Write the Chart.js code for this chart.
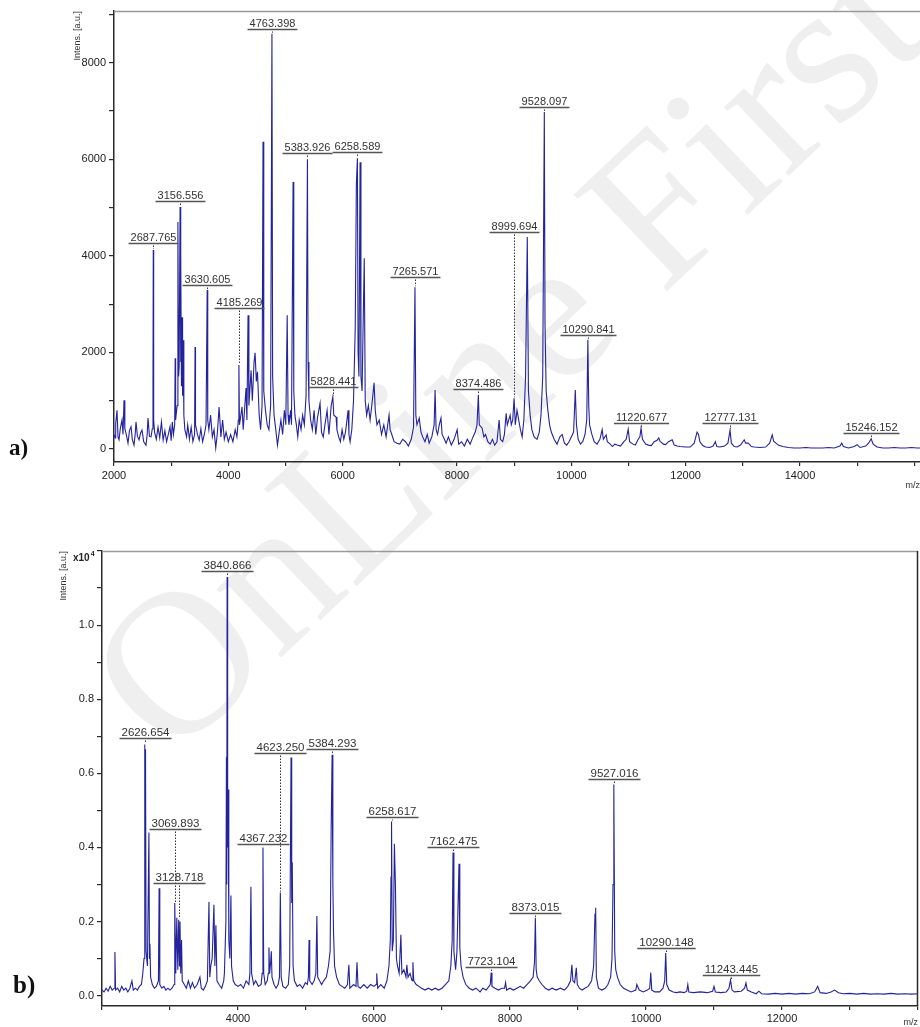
<!DOCTYPE html>
<html>
<head>
<meta charset="utf-8">
<script src="https://cdn.jsdelivr.net/npm/chart.js@4.4.0/dist/chart.umd.min.js"></script>
<style>
  html, body { margin: 0; padding: 0; background: #fff; width: 920px; height: 1027px; overflow: hidden; }
  .panel { position: absolute; left: 0; z-index: 1; }
  #wrapA { top: 0; }
  #wrapB { top: 530px; }
  .tag { position: absolute; z-index: 2; font-family: "Liberation Serif", "DejaVu Serif", serif; font-weight: bold; color: #111; line-height: 1; }
  #watermark {
    position: absolute; left: 505px; top: 350px; z-index: 0;
    transform: translate(-50%, -50%) rotate(-43.5deg);
    font-family: "Liberation Serif", serif; font-size: 205px; color: #efefef; white-space: nowrap;
  }
</style>
</head>
<body>
<div id="watermark">OnLine First</div>
<div class="panel" id="wrapA"><canvas id="chartA" width="920" height="500"></canvas></div>
<div class="panel" id="wrapB"><canvas id="chartB" width="920" height="497"></canvas></div>
<div class="tag" style="left:9px; top:436px; font-size:23px;">a)</div>
<div class="tag" style="left:13px; top:972px; font-size:25px;">b)</div>
<script>
// spectrum a) : [m/z, intensity a.u.]
const spectrumA = [
  [2000,300],[2018,230],[2030,520],[2053,800],[2070,250],[2088,190],[2110,420],[2140,600],[2158,300],[2175,1010],
  [2190,420],[2210,330],[2245,120],[2270,380],[2298,460],[2320,200],[2350,80],[2370,300],[2385,560],[2410,260],
  [2438,190],[2465,330],[2490,390],[2520,150],[2560,80],[2580,300],[2595,640],[2620,260],[2648,250],[2670,420],
  [2682,1300],[2687,4120],[2694,600],[2710,350],[2740,200],[2770,450],[2800,230],[2830,560],[2860,180],[2890,380],
  [2920,150],[2950,300],[2980,460],[3000,170],[3020,560],[3040,300],[3062,500],[3070,1880],[3078,600],[3105,900],
  [3118,4700],[3130,1500],[3140,1700],[3156,5010],[3163,1800],[3172,4010],[3180,1300],[3190,2730],[3200,1100],[3210,2250],
  [3222,700],[3240,400],[3270,250],[3290,500],[3320,200],[3350,450],[3380,150],[3410,300],[3418,2110],[3426,500],
  [3460,300],[3490,180],[3520,420],[3550,150],[3580,300],[3610,500],[3630,3290],[3640,600],[3660,400],[3690,700],
  [3720,250],[3750,400],[3780,20],[3810,350],[3838,870],[3870,250],[3900,600],[3930,200],[3960,350],[4000,150],
  [4040,300],[4080,150],[4120,400],[4150,250],[4175,600],[4185,1740],[4195,500],[4240,870],[4260,400],[4310,1260],
  [4325,600],[4345,2770],[4360,900],[4398,1630],[4420,1000],[4450,1800],[4468,1990],[4490,1400],[4510,1600],[4540,700],
  [4565,400],[4590,900],[4607,6360],[4620,1200],[4650,800],[4680,500],[4710,400],[4740,900],[4763,8600],[4775,1500],
  [4800,700],[4830,400],[4860,80],[4890,350],[4920,600],[4950,300],[4980,800],[5005,500],[5030,2770],[5045,700],
  [5060,500],[5090,800],[5105,500],[5133,5530],[5145,1200],[5165,700],[5190,500],[5215,250],[5240,600],[5272,400],
  [5300,700],[5330,500],[5360,1100],[5384,6000],[5395,1800],[5410,1000],[5440,600],[5470,400],[5500,800],[5530,300],
  [5560,650],[5605,950],[5630,350],[5660,250],[5690,500],[5728,800],[5760,300],[5800,900],[5828,1080],[5845,700],
  [5885,660],[5900,400],[5930,250],[5960,150],[5990,400],[6020,200],[6050,350],[6095,800],[6110,300],[6130,150],
  [6160,400],[6190,1000],[6220,2500],[6240,5480],[6258,6020],[6270,2000],[6285,1500],[6305,5940],[6320,1500],[6340,1200],
  [6360,2700],[6378,3950],[6395,1000],[6420,700],[6450,900],[6480,600],[6510,900],[6550,1370],[6570,800],[6600,500],
  [6640,600],[6680,300],[6720,500],[6760,250],[6812,700],[6830,400],[6860,300],[6900,150],[6950,120],[7000,100],
  [7050,200],[7100,150],[7150,60],[7200,200],[7240,450],[7265,3350],[7280,700],[7300,500],[7340,640],[7370,350],
  [7400,250],[7440,150],[7480,300],[7513,120],[7560,250],[7600,500],[7617,1220],[7635,400],[7660,300],[7690,500],
  [7720,640],[7740,300],[7780,200],[7810,120],[7850,250],[7900,80],[7950,200],[8003,400],[8030,100],[8080,150],
  [8130,60],[8180,200],[8230,100],[8280,250],[8320,350],[8350,500],[8374,1120],[8390,500],[8440,430],[8470,250],
  [8500,300],[8540,150],[8580,100],[8620,200],[8660,80],[8700,150],[8737,600],[8760,200],[8800,150],[8830,300],
  [8860,740],[8880,500],[8930,700],[8950,500],[8975,600],[8999,1050],[9020,500],[9050,800],[9080,600],[9110,400],
  [9140,250],[9170,600],[9200,1500],[9230,4390],[9250,1200],[9280,700],[9310,400],[9350,250],[9400,200],[9440,350],
  [9470,700],[9500,1500],[9528,6980],[9540,2600],[9560,1200],[9590,800],[9620,500],[9650,350],[9700,200],[9750,100],
  [9800,250],[9840,300],[9880,120],[9920,80],[9960,150],[10000,250],[10040,350],[10070,1220],[10090,500],[10120,200],
  [10160,100],[10200,150],[10240,300],[10270,600],[10290,2260],[10305,900],[10320,500],[10360,300],[10400,150],[10450,100],
  [10500,200],[10540,400],[10560,200],[10610,290],[10630,150],[10680,100],[10720,50],[10760,100],[10800,80],[10860,60],
  [10920,150],[10960,200],[10995,410],[11020,150],[11080,100],[11120,80],[11170,200],[11200,250],[11220,430],[11245,200],
  [11300,100],[11350,80],[11400,70],[11450,150],[11500,180],[11530,230],[11555,150],[11572,140],[11610,100],[11650,90],
  [11700,150],[11765,190],[11800,80],[11850,60],[11900,50],[12000,40],[12080,40],[12150,120],[12200,350],[12225,300],
  [12250,150],[12300,70],[12350,40],[12420,30],[12480,60],[12520,150],[12545,50],[12600,40],[12680,60],[12740,120],
  [12777,390],[12800,120],[12850,50],[12900,40],[12960,80],[13025,190],[13050,120],[13095,120],[13150,50],[13200,40],
  [13300,30],[13400,40],[13470,120],[13515,290],[13540,160],[13580,120],[13620,80],[13700,50],[13800,30],[13900,20],
  [14000,20],[14100,30],[14200,20],[14400,20],[14500,30],[14600,20],[14700,60],[14730,120],[14760,50],[14850,20],
  [14950,50],[15000,90],[15050,30],[15150,60],[15200,120],[15246,210],[15280,100],[15350,40],[15450,20],[15550,20],
  [15650,30],[15750,20],[15850,20],[15950,30],[16050,20],[16100,20]
];

// spectrum b) : [m/z, intensity x10^4 a.u.]
const spectrumB = [
  [2000,0.015],[2030,0.01],[2060,0.02],[2090,0.012],[2120,0.025],[2150,0.015],[2180,0.02],[2190,0.118],[2200,0.015],[2230,0.02],
  [2260,0.01],[2290,0.025],[2320,0.015],[2350,0.02],[2380,0.01],[2410,0.02],[2440,0.04],[2460,0.015],[2490,0.02],[2520,0.015],
  [2550,0.025],[2580,0.03],[2600,0.06],[2618,0.1],[2626,0.678],[2632,0.3],[2640,0.665],[2648,0.12],[2668,0.08],[2690,0.44],
  [2698,0.1],[2705,0.14],[2715,0.05],[2740,0.03],[2770,0.02],[2800,0.025],[2830,0.04],[2840,0.29],[2850,0.03],[2880,0.02],
  [2910,0.025],[2940,0.015],[2970,0.02],[3000,0.015],[3030,0.02],[3060,0.03],[3070,0.25],[3085,0.06],[3100,0.21],[3115,0.07],
  [3128,0.205],[3140,0.08],[3147,0.2],[3158,0.06],[3170,0.15],[3180,0.04],[3210,0.03],[3240,0.02],[3270,0.04],[3300,0.02],
  [3330,0.035],[3360,0.02],[3400,0.03],[3440,0.05],[3460,0.02],[3490,0.015],[3520,0.025],[3550,0.04],[3573,0.253],[3585,0.05],
  [3600,0.08],[3620,0.1],[3646,0.245],[3660,0.08],[3675,0.19],[3690,0.04],[3720,0.03],[3760,0.02],[3790,0.04],[3800,0.06],
  [3822,0.2],[3830,0.645],[3835,0.3],[3840,1.13],[3848,0.4],[3855,0.556],[3865,0.15],[3880,0.1],[3896,0.27],[3905,0.08],
  [3930,0.04],[3960,0.03],[4000,0.025],[4040,0.03],[4080,0.02],[4120,0.04],[4160,0.03],[4175,0.06],[4190,0.294],[4200,0.06],
  [4230,0.03],[4260,0.04],[4300,0.025],[4340,0.03],[4355,0.06],[4367,0.40],[4378,0.06],[4400,0.03],[4430,0.04],[4445,0.06],
  [4455,0.13],[4465,0.06],[4480,0.09],[4490,0.12],[4500,0.05],[4530,0.03],[4560,0.02],[4590,0.03],[4610,0.05],[4623,0.278],
  [4635,0.05],[4660,0.025],[4700,0.02],[4740,0.03],[4760,0.08],[4780,0.643],[4790,0.25],[4798,0.36],[4810,0.08],[4830,0.04],
  [4870,0.025],[4910,0.03],[4950,0.02],[4990,0.035],[5020,0.03],[5035,0.05],[5045,0.15],[5055,0.04],[5090,0.03],[5120,0.04],
  [5145,0.06],[5160,0.215],[5172,0.05],[5200,0.04],[5230,0.03],[5260,0.04],[5300,0.05],[5330,0.08],[5355,0.12],[5370,0.45],
  [5384,0.65],[5395,0.3],[5405,0.17],[5420,0.08],[5450,0.05],[5490,0.03],[5530,0.025],[5570,0.02],[5610,0.03],[5630,0.083],
  [5645,0.02],[5700,0.03],[5735,0.025],[5750,0.09],[5765,0.025],[5800,0.02],[5850,0.03],[5900,0.02],[5950,0.03],[6000,0.025],
  [6030,0.03],[6040,0.06],[6055,0.02],[6100,0.03],[6150,0.02],[6190,0.04],[6220,0.08],[6240,0.15],[6250,0.32],[6258,0.47],
  [6268,0.12],[6285,0.15],[6300,0.41],[6315,0.3],[6330,0.1],[6345,0.08],[6370,0.06],[6395,0.164],[6410,0.06],[6440,0.07],
  [6470,0.05],[6483,0.083],[6500,0.05],[6530,0.06],[6560,0.04],[6572,0.09],[6585,0.04],[6620,0.03],[6660,0.025],[6700,0.02],
  [6750,0.015],[6800,0.02],[6850,0.015],[6900,0.02],[6950,0.015],[7000,0.02],[7050,0.03],[7100,0.04],[7130,0.08],[7150,0.15],
  [7162,0.386],[7175,0.12],[7200,0.07],[7220,0.12],[7250,0.356],[7262,0.13],[7280,0.08],[7310,0.05],[7350,0.03],[7400,0.02],
  [7450,0.015],[7500,0.02],[7560,0.01],[7600,0.02],[7650,0.015],[7690,0.025],[7710,0.03],[7723,0.062],[7735,0.025],[7780,0.02],
  [7830,0.015],[7880,0.02],[7920,0.02],[7935,0.035],[7950,0.015],[8000,0.02],[8050,0.015],[8100,0.02],[8150,0.025],[8200,0.02],
  [8250,0.03],[8300,0.04],[8340,0.05],[8360,0.09],[8373,0.21],[8385,0.07],[8400,0.05],[8430,0.04],[8470,0.03],[8520,0.02],
  [8570,0.015],[8620,0.02],[8680,0.015],[8740,0.02],[8800,0.015],[8850,0.025],[8890,0.04],[8910,0.083],[8925,0.04],[8950,0.035],
  [8960,0.05],[8975,0.075],[8990,0.03],[9020,0.02],[9060,0.015],[9100,0.02],[9150,0.025],[9200,0.04],[9230,0.08],[9250,0.22],
  [9260,0.237],[9270,0.05],[9300,0.02],[9350,0.015],[9400,0.02],[9440,0.03],[9480,0.05],[9500,0.1],[9515,0.3],[9527,0.57],
  [9540,0.12],[9555,0.07],[9580,0.05],[9620,0.03],[9670,0.02],[9720,0.015],[9780,0.01],[9850,0.015],[9865,0.03],[9900,0.015],
  [9960,0.01],[10020,0.015],[10055,0.02],[10070,0.062],[10085,0.015],[10130,0.01],[10200,0.01],[10250,0.02],[10275,0.04],[10290,0.115],
  [10305,0.03],[10340,0.015],[10400,0.01],[10450,0.008],[10500,0.01],[10560,0.008],[10600,0.012],[10615,0.03],[10630,0.01],[10700,0.008],
  [10800,0.01],[10900,0.008],[10980,0.012],[11000,0.025],[11020,0.01],[11100,0.008],[11180,0.01],[11220,0.02],[11243,0.042],[11265,0.015],
  [11300,0.01],[11400,0.012],[11450,0.02],[11470,0.034],[11490,0.015],[11550,0.01],[11620,0.005],[11660,0.012],[11700,0.005],[11800,0.004],
  [11900,0.006],[12000,0.004],[12100,0.006],[12200,0.004],[12300,0.006],[12400,0.005],[12480,0.01],[12525,0.025],[12560,0.008],[12650,0.006],
  [12720,0.01],[12775,0.015],[12830,0.008],[12900,0.005],[13000,0.006],[13100,0.004],[13200,0.006],[13300,0.004],[13400,0.005],[13500,0.004],
  [13600,0.006],[13700,0.004],[13800,0.005],[13900,0.004],[14000,0.005]
];

// annotated peaks: m/z, peak top, height of the label line
const labelMzA = [2687.765, 3156.556, 3630.605, 4185.269, 4763.398, 5383.926, 5828.441, 6258.589, 7265.571, 8374.486, 8999.694, 9528.097, 10290.841, 11220.677, 12777.131, 15246.152];
const labelPeakA = [4120, 5010, 3290, 1740, 8600, 6000, 1080, 6020, 3350, 1120, 1050, 6980, 2260, 430, 390, 210];
const labelLevelA = [4264, 5134, 3400, 2919, 8700, 6127, 1283, 6148, 3560, 1242, 4492, 7080, 2360, 538, 538, 331];

const labelMzB = [2626.654, 3069.893, 3128.718, 3840.866, 4367.232, 4623.250, 5384.293, 6258.617, 7162.475, 7723.104, 8373.015, 9527.016, 10290.148, 11243.445];
const labelPeakB = [0.678, 0.25, 0.205, 1.13, 0.40, 0.278, 0.65, 0.47, 0.386, 0.062, 0.21, 0.57, 0.115, 0.042];
const labelLevelB = [0.694, 0.45, 0.305, 1.145, 0.41, 0.655, 0.665, 0.483, 0.40, 0.078, 0.224, 0.585, 0.129, 0.056];

// tick marks (every 1000 / 0.1) and the ones that carry a label
const xMarksA = [2000, 3000, 4000, 5000, 6000, 7000, 8000, 9000, 10000, 11000, 12000, 13000, 14000, 15000, 16000];
const yMarksA = [0, 1000, 2000, 3000, 4000, 5000, 6000, 7000, 8000, 9000];
const xMarksB = [2000, 3000, 4000, 5000, 6000, 7000, 8000, 9000, 10000, 11000, 12000, 13000, 14000];
const yMarksB = [0, 0.1, 0.2, 0.3, 0.4, 0.5, 0.6, 0.7, 0.8, 0.9, 1.0, 1.1, 1.2];
const xTicksA = [2000, 4000, 6000, 8000, 10000, 12000, 14000];
const yTicksA = [0, 2000, 4000, 6000, 8000];
const xTicksB = [4000, 6000, 8000, 10000, 12000];
const yTicksB = ['0.0', '0.2', '0.4', '0.6', '0.8', '1.0'];

const lineColor = '#23239b';
const axisColor = '#2a2a2a';
const tickFont = { family: '"Liberation Sans", Arial, sans-serif', size: 11 };

// labels above peaks, frame lines, exponent
const peakLabels = {
    id: 'peakLabels',
    afterDatasetsDraw(chart, args, opts) {
        const { ctx, chartArea } = chart;
        const x = chart.scales.x;
        const y = chart.scales.y;
        ctx.save();

        // frame
        ctx.lineWidth = 1.5;
        ctx.strokeStyle = '#9a9a9a';
        ctx.beginPath();
        ctx.moveTo(chartArea.left, chartArea.top + 0.5);
        ctx.lineTo(chartArea.right, chartArea.top + 0.5);
        ctx.stroke();
        if (opts.rightBorder) {
            ctx.strokeStyle = axisColor;
            ctx.beginPath();
            ctx.moveTo(chartArea.right - 0.5, chartArea.top);
            ctx.lineTo(chartArea.right - 0.5, chartArea.bottom);
            ctx.stroke();
        }

        // scale factor written above the y axis (canvas coordinates)
        if (opts.exponentX) {
            ctx.fillStyle = '#222';
            ctx.textAlign = 'left';
            ctx.textBaseline = 'alphabetic';
            ctx.font = 'bold 10px "Liberation Sans", Arial, sans-serif';
            ctx.fillText('x10', opts.exponentX, opts.exponentY);
            const w = ctx.measureText('x10').width;
            ctx.font = 'bold 7px "Liberation Sans", Arial, sans-serif';
            ctx.fillText('4', opts.exponentX + w + 1, opts.exponentY - 5);
        }

        ctx.font = opts.fontSize + 'px "Liberation Sans", Arial, sans-serif';
        ctx.textAlign = 'center';
        ctx.textBaseline = 'alphabetic';
        opts.mz.forEach((m, i) => {
            const px = Math.round(x.getPixelForValue(m)) + 0.5;
            const yLine = Math.round(y.getPixelForValue(opts.level[i])) + 0.5;
            const yPeak = y.getPixelForValue(opts.peak[i]);
            const text = m.toFixed(3);
            const w = ctx.measureText(text).width;

            ctx.fillStyle = '#333';
            ctx.fillText(text, px, yLine - 3);

            ctx.setLineDash([]);
            ctx.strokeStyle = '#555';
            ctx.lineWidth = 1.4;
            ctx.beginPath();
            ctx.moveTo(px - w / 2 - 2, yLine);
            ctx.lineTo(px + w / 2 + 2, yLine);
            ctx.stroke();

            ctx.setLineDash([1.5, 1.5]);
            ctx.lineWidth = 1;
            ctx.strokeStyle = '#333';
            ctx.beginPath();
            ctx.moveTo(px, yLine + 2);
            ctx.lineTo(px, yPeak - 1);
            ctx.stroke();
        });
        ctx.setLineDash([]);
        ctx.restore();
    }
};

function makeSpectrum(canvasId, spectrum, cfg) {
    new Chart(document.getElementById(canvasId), {
        type: 'line',
        data: {
            datasets: [{
                data: spectrum.map(p => ({ x: p[0], y: p[1] })),
                borderColor: lineColor,
                borderWidth: 1.1,
                pointRadius: 0,
                tension: 0,
                fill: false
            }]
        },
        options: {
            responsive: false,
            animation: false,
            events: [],
            layout: { padding: cfg.padding },
            plugins: {
                legend: { display: false },
                tooltip: { enabled: false },
                peakLabels: cfg.labels
            },
            scales: {
                x: {
                    type: 'linear',
                    min: cfg.xMin, max: cfg.xMax,
                    afterBuildTicks: s => { s.ticks = cfg.xMarks.map(v => ({ value: v })); },
                    afterFit: s => { s.height = cfg.xAxisHeight; },
                    border: { color: axisColor, width: 1.5 },
                    grid: { drawOnChartArea: false, tickLength: 4, color: axisColor, lineWidth: 1.2 },
                    ticks: {
                        autoSkip: false, maxRotation: 0, padding: cfg.xTickPad,
                        color: '#222', font: tickFont,
                        callback: v => cfg.xTicks.includes(v) ? String(v) : ''
                    },
                    title: {
                        display: true, text: 'm/z', align: 'end', color: '#333',
                        font: { family: '"Liberation Sans", Arial, sans-serif', size: 9, lineHeight: 1 },
                        padding: { top: 0, bottom: cfg.xTitlePad }
                    }
                },
                y: {
                    type: 'linear',
                    min: cfg.yMin, max: cfg.yMax,
                    afterBuildTicks: s => { s.ticks = cfg.yMarks.map(v => ({ value: v })); },
                    afterFit: s => { s.width = cfg.yAxisWidth; },
                    border: { color: axisColor, width: 1.5 },
                    grid: { drawOnChartArea: false, tickLength: 5, color: axisColor, lineWidth: 1.2 },
                    ticks: {
                        autoSkip: false, padding: 3,
                        color: '#222', font: tickFont,
                        callback: cfg.yCallback
                    },
                    title: {
                        display: true, text: 'Intens. [a.u.]', align: 'end', color: '#333',
                        font: { family: '"Liberation Sans", Arial, sans-serif', size: 9, lineHeight: 1.2 },
                        padding: { top: cfg.yTitlePad, bottom: 0 }
                    }
                }
            }
        },
        plugins: [peakLabels]
    });
}

makeSpectrum('chartA', spectrumA, {
    padding: { top: 11, right: 0, left: 0, bottom: 0 },
    xMin: 2000, xMax: 16100, yMin: -270, yMax: 9070,
    xAxisHeight: 38, yAxisWidth: 114, xTickPad: 3, xTitlePad: 10, yTitlePad: 72,
    xMarks: xMarksA, yMarks: yMarksA, xTicks: xTicksA,
    yCallback: v => yTicksA.includes(v) ? String(v) : '',
    labels: { mz: labelMzA, peak: labelPeakA, level: labelLevelA, fontSize: 11, rightBorder: false }
});

makeSpectrum('chartB', spectrumB, {
    padding: { top: 21, right: 2, left: 0, bottom: 0 },
    xMin: 2000, xMax: 14000, yMin: -0.028, yMax: 1.2,
    xAxisHeight: 21, yAxisWidth: 102, xTickPad: 2, xTitlePad: 0, yTitlePad: 58,
    xMarks: xMarksB, yMarks: yMarksB, xTicks: xTicksB,
    yCallback: v => {
        const t = v.toFixed(1);
        return yTicksB.includes(t) ? t : '';
    },
    labels: { mz: labelMzB, peak: labelPeakB, level: labelLevelB, fontSize: 11.5, rightBorder: true, exponentX: 73, exponentY: 31 }
});
</script>
</body>
</html>
